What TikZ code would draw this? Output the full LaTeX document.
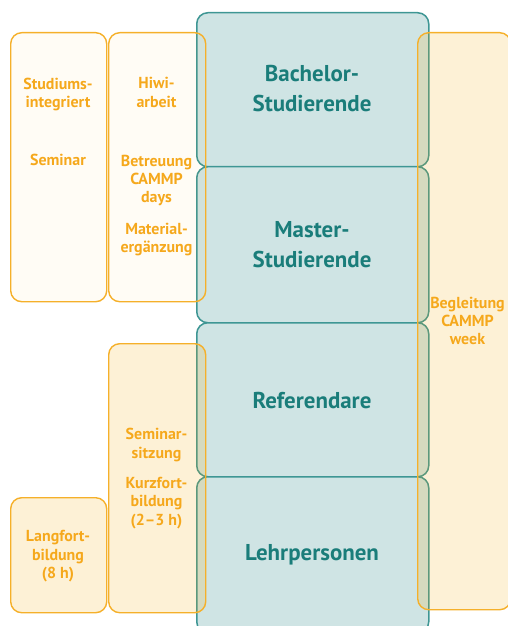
\documentclass[tikz,border=0pt]{standalone}
\usepackage{fontspec}
\setmainfont{PT Sans}
\definecolor{tealfill}{HTML}{CFE4E4}
\definecolor{tealline}{HTML}{3E9694}
\definecolor{tealtext}{HTML}{1A7D7A}
\definecolor{orline}{HTML}{F5B02A}
\definecolor{ortext}{HTML}{F5A81C}
\definecolor{orfill}{HTML}{F5A800}
\begin{document}
\begin{tikzpicture}[x=1bp,y=-1bp,
  tealbox/.style={draw=tealline, line width=1.5bp, fill=tealfill, rounded corners=11bp,
    inner sep=0pt, anchor=north west, minimum width=232bp},
  orbox/.style={draw=orline, line width=1.4bp, fill=orfill, fill opacity=0.16, rounded corners=11bp,
    inner sep=0pt, anchor=north west},
  palebox/.style={orbox, fill opacity=0.04},
  tealtxt/.style={text=tealtext, font=\bfseries\fontsize{23}{30}\selectfont, align=center, inner sep=0pt},
  ortxt/.style={text=ortext, font=\bfseries\fontsize{16}{18.4}\selectfont, align=center, inner sep=0pt}
]
\useasboundingbox (0,0) rectangle (508,626);
\clip (0,0) rectangle (508,626);
% teal groups
\node[tealbox, minimum height=154bp] (bach) at (196,12) {};
\node[tealbox, minimum height=156bp] (mast) at (196,166) {};
\node[tealbox, minimum height=154bp] (refe) at (196,322) {};
\node[tealbox, minimum height=156bp] (lehr) at (196,476) {};
\node[tealtxt] (tbach) at (312,88.7) {Bachelor-\\Studierende};
\node[tealtxt] (tmast) at (312,244.2) {Master-\\Studierende};
\node[tealtxt] (trefe) at (312,400.7) {Referendare};
\node[tealtxt] (tlehr) at (312,555.2) {Lehrpersonen};
% orange boxes
\node[palebox, minimum width=96bp, minimum height=269bp] (box1) at (10,32) {};
\node[palebox, minimum width=97bp, minimum height=269bp] (box2) at (108,32) {};
\node[orbox, minimum width=97bp, minimum height=269bp] (box3) at (108,343) {};
\node[orbox, minimum width=96bp, minimum height=115bp] (box4) at (10,497) {};
\node[orbox, minimum width=93bp, minimum height=577bp] (boxr) at (417,32) {};
% orange texts
\node[ortxt] (studint) at (58,94.2) {Studiums-\\integriert};
\node[ortxt] (semin) at (58,160.3) {Seminar};
\node[ortxt] (hiwi) at (156.5,92.5) {Hiwi-\\arbeit};
\node[ortxt] (betr) at (156.5,180.5) {Betreuung\\CAMMP\\days};
\node[ortxt] (mater) at (156.5,239.8) {Material-\\ergänzung};
\node[ortxt] (semsitz) at (156.5,445) {Seminar-\\sitzung};
\node[ortxt] (kurz) at (156.5,503) {Kurzfort-\\bildung\\(2–3 h)};
\node[ortxt] (lang) at (58,556.4) {Langfort-\\bildung\\(8 h)};
\node[ortxt] (begl) at (467.5,320.8) {Begleitung\\CAMMP\\week};
\end{tikzpicture}
\end{document}
